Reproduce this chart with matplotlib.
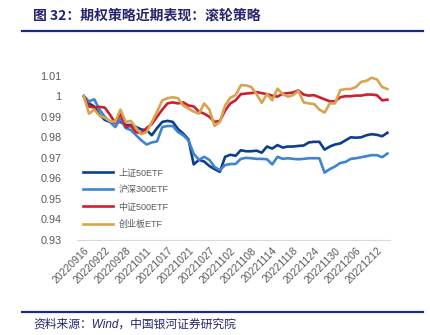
import matplotlib
matplotlib.use("Agg")
import matplotlib.pyplot as plt
from matplotlib.lines import Line2D

dates = [
    "20220916", "20220919", "20220920", "20220921", "20220922", "20220923", "20220926", "20220927",
    "20220928", "20220929", "20220930", "20221010", "20221011", "20221012", "20221013", "20221014",
    "20221017", "20221018", "20221019", "20221020", "20221021", "20221024", "20221025", "20221026",
    "20221027", "20221028", "20221031", "20221101", "20221102", "20221103", "20221104", "20221107",
    "20221108", "20221109", "20221110", "20221111", "20221114", "20221115", "20221116", "20221117",
    "20221118", "20221121", "20221122", "20221123", "20221124", "20221125", "20221128", "20221129",
    "20221130", "20221201", "20221202", "20221205", "20221206", "20221207", "20221208", "20221209",
    "20221212", "20221213", "20221214",
]

sz50 = [1.000, 0.9965, 0.995, 0.991, 0.9885, 0.9875, 0.9872, 0.9875, 0.986, 0.986,
        0.985, 0.9838, 0.9835, 0.981, 0.9845, 0.9875, 0.988, 0.9875, 0.984, 0.9818,
        0.979, 0.9668, 0.969, 0.9682, 0.966, 0.9645, 0.9632, 0.9705, 0.9715, 0.971,
        0.9737, 0.9732, 0.9732, 0.9735, 0.9725, 0.9755, 0.9745, 0.9762, 0.975, 0.9755,
        0.9755, 0.9758, 0.976, 0.9775, 0.9778, 0.9778, 0.974, 0.9755, 0.9765, 0.977,
        0.9785, 0.980, 0.9798, 0.980, 0.981, 0.9815, 0.9812, 0.9805, 0.9822]

hs300 = [1.000, 0.9975, 0.9985, 0.9935, 0.990, 0.9875, 0.985, 0.989, 0.9845, 0.9835,
         0.981, 0.9785, 0.9765, 0.9775, 0.978, 0.985, 0.9855, 0.9855, 0.9825, 0.981,
         0.9785, 0.972, 0.969, 0.9705, 0.969, 0.9655, 0.964, 0.9665, 0.967, 0.967,
         0.9695, 0.970, 0.9698, 0.9695, 0.9695, 0.9693, 0.9668, 0.9705, 0.9695, 0.9698,
         0.9695, 0.9693, 0.9695, 0.9698, 0.9698, 0.9698, 0.9628, 0.9645, 0.9658, 0.9675,
         0.968, 0.9695, 0.9698, 0.9703, 0.9708, 0.9713, 0.9713, 0.9703, 0.9721]

zz500 = [1.000, 0.995, 0.9945, 0.9948, 0.9945, 0.991, 0.987, 0.9915, 0.985, 0.9855,
         0.9825, 0.982, 0.9845, 0.9865, 0.990, 0.9935, 0.9965, 0.997, 0.9965, 0.997,
         0.9955, 0.995, 0.9925, 0.9915, 0.990, 0.9875, 0.988, 0.993, 0.9965, 0.998,
         1.001, 1.0013, 1.0015, 1.002, 1.0015, 1.001, 1.0003, 0.9998, 1.0012, 1.0015,
         1.0018, 1.0028, 1.0008, 1.0003, 1.0005, 0.9995, 0.9985, 0.9975, 0.9975, 0.9995,
         1.000, 1.000, 1.0003, 1.0003, 1.0008, 1.0008, 1.0005, 0.998, 0.9983]

cyb = [1.000, 0.9915, 0.9935, 0.9905, 0.9895, 0.988, 0.9875, 0.9935, 0.9875, 0.988,
       0.9845, 0.9815, 0.9825, 0.9875, 0.9925, 0.998, 0.999, 0.9995, 0.999, 0.9955,
       0.994, 0.9925, 0.9915, 0.9965, 0.9935, 0.9855, 0.9875, 0.9955, 0.9993, 1.0005,
       1.0053, 1.0053, 1.0045, 1.001, 0.9968, 1.001, 0.998, 1.0037, 1.001, 0.9998,
       1.0005, 1.0026, 0.997, 0.9965, 0.9962, 0.9935, 0.992, 0.9965, 0.9965, 1.003,
       1.0035, 1.0035, 1.0045, 1.007, 1.0075, 1.009, 1.0082, 1.0045, 1.0035]

series_names = ["上证50ETF", "沪深300ETF", "中证500ETF", "创业板ETF"]
series_vals = [sz50, hs300, zz500, cyb]
colors = ["#0D3E8E", "#3D85D1", "#CC1F30", "#D9A452"]

yticks = [0.93, 0.94, 0.95, 0.96, 0.97, 0.98, 0.99, 1.00, 1.01]
ytick_labels = ["0.93", "0.94", "0.95", "0.96", "0.97", "0.98", "0.99", "1", "1.01"]

plt.rcParams['font.family'] = ['Liberation Sans', 'Noto Sans CJK SC', 'DejaVu Sans']

fig = plt.figure(figsize=(4.3, 3.35), dpi=100)
ax = fig.add_axes([0.179, 0.2836, 0.728, 0.4905])

x = list(range(len(dates)))
for name, vals, c in zip(series_names, series_vals, colors):
    ax.plot(x, vals, color=c, lw=1.9, solid_joinstyle='round', label=name)

ax.set_ylim(0.93, 1.01)
ax.set_xlim(-1.3, len(dates) - 0.5)
ax.set_yticks(yticks)
ax.set_yticklabels(ytick_labels, fontsize=7.8, color="#595959")
tick_pos = x[::4]
ax.set_xticks(tick_pos)
ax.set_xticklabels([dates[i] for i in tick_pos], fontsize=7.5, color="#595959",
                   rotation=45, ha='right', rotation_mode='anchor')
ax.tick_params(axis='both', length=0, pad=4)
ax.tick_params(axis='y', pad=11)
for s in ["left", "right", "top"]:
    ax.spines[s].set_visible(False)
ax.spines["bottom"].set_color("#D9D9D9")
ax.spines["bottom"].set_linewidth(0.8)

handles = [Line2D([0], [0], color=c, lw=1.9) for c in colors]
leg = ax.legend(handles, series_names, loc='upper left', bbox_to_anchor=(0.0, 0.475),
                frameon=False, fontsize=6.5, labelcolor="#595959",
                handlelength=3.3, handletextpad=0.6, labelspacing=0.9, borderaxespad=0.3)

navy = "#1B2A85"
fig.text(33 / 430, 1 - 16 / 335, "图 32：期权策略近期表现：滚轮策略", fontsize=10,
         fontweight='bold', color="#25256E", va='center', ha='left',
         family=['Noto Sans CJK SC', 'DejaVu Sans'])
fig.add_artist(Line2D([22 / 430, 423 / 430], [1 - 31 / 335, 1 - 31 / 335],
                      color=navy, lw=1.6))
fig.add_artist(Line2D([22 / 430, 423 / 430], [1 - 312 / 335, 1 - 312 / 335],
                      color=navy, lw=1.6))
fig.text(33 / 430, 1 - 325 / 335, "资料来源：Wind，中国银河证券研究院", fontsize=8.5,
         style='italic', color="#25256E", va='center', ha='left',
         family=['Liberation Sans', 'Noto Sans CJK SC'])

fig.savefig("out.png", dpi=100)
